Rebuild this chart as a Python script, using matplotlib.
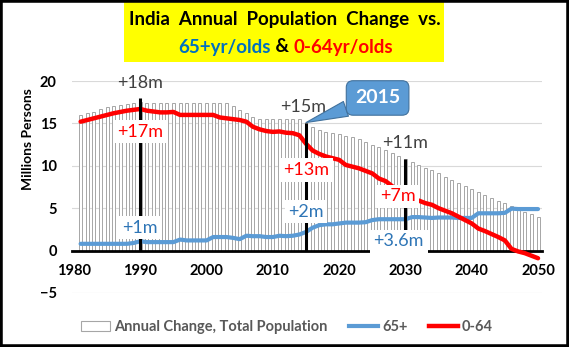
import matplotlib
matplotlib.use("Agg")
import matplotlib.pyplot as plt
from matplotlib.lines import Line2D
from matplotlib.patches import Patch, Rectangle
from matplotlib.offsetbox import TextArea, HPacker, AnnotationBbox

plt.rcParams["font.family"] = ["Lato", "DejaVu Sans"]

years = list(range(1981, 2051))

total_change = [
    16.0, 16.2, 16.4, 16.7, 16.9, 17.05, 17.2, 17.3, 17.45, 17.5,
    17.4, 17.4, 17.4, 17.4, 17.4, 17.4, 17.4, 17.4, 17.4, 17.4,
    17.4, 17.4, 17.4, 17.1, 16.6, 16.2, 15.8, 15.5, 15.5, 15.5,
    15.5, 15.5, 15.5, 15.5, 15.1, 14.6, 14.2, 14.0, 13.85, 13.7,
    13.55, 13.4, 13.15, 12.85, 12.5, 12.2, 11.9, 11.5, 11.1, 10.8,
    10.5, 10.1, 9.75, 9.45, 9.1, 8.7, 8.35, 7.95, 7.65, 7.25,
    6.9, 6.55, 6.2, 5.9, 5.65, 5.3, 4.9, 4.6, 4.3, 4.0,
]

age_65_plus = [
    0.8, 0.8, 0.8, 0.8, 0.8, 0.8, 0.8, 0.8, 0.9, 1.1,
    1.0, 1.0, 1.0, 1.0, 1.0, 1.3, 1.2, 1.2, 1.2, 1.2,
    1.6, 1.6, 1.6, 1.5, 1.35, 1.75, 1.7, 1.7, 1.6, 1.6,
    1.75, 1.7, 1.75, 1.9, 2.2, 2.7, 3.0, 3.1, 3.1, 3.2,
    3.3, 3.3, 3.3, 3.35, 3.6, 3.7, 3.7, 3.7, 3.7, 3.7,
    3.95, 3.95, 3.9, 3.85, 3.9, 3.9, 3.9, 3.85, 3.85, 3.85,
    4.4, 4.4, 4.4, 4.4, 4.45, 4.95, 4.9, 4.9, 4.9, 4.9,
]

age_0_64 = [
    15.2, 15.4, 15.6, 15.8, 16.0, 16.2, 16.35, 16.5, 16.6, 16.7,
    16.5, 16.4, 16.3, 16.3, 16.35, 16.0, 16.0, 16.0, 16.0, 16.0,
    16.0, 15.7, 15.6, 15.5, 15.4, 15.2, 14.6, 14.3, 14.1, 14.0,
    14.05, 13.9, 13.85, 13.6, 12.6, 11.8, 11.4, 11.1, 10.9, 10.7,
    10.1, 9.9, 9.7, 9.4, 9.1, 8.5, 8.2, 7.6, 7.0, 6.5,
    6.1, 5.9, 5.6, 5.4, 5.0, 4.7, 4.4, 4.0, 3.6, 3.2,
    2.6, 2.3, 1.95, 1.6, 1.2, 0.2, -0.1, -0.3, -0.6, -0.9,
]

marker_years = [1990, 2015, 2030]
marker_tops = [18.0, 15.1, 10.8]

# text labels: (year, value, text, colour, white background)
labels = [
    (1990, 19.8, "+18m", "#404040", False),
    (1990, 14.0, "+17m", "#FF0000", True),
    (1990, 2.7, "+1m", "#2E75B6", True),
    (2014.5, 16.9, "+15m", "#404040", False),
    (2015, 9.5, "+13m", "#FF0000", True),
    (2015, 4.6, "+2m", "#2E75B6", True),
    (2030, 12.7, "+11m", "#404040", False),
    (2028.8, 6.4, "+7m", "#FF0000", True),
    (2029, 1.1, "+3.6m", "#2E75B6", True),
]

W, H = 569, 347
fig = plt.figure(figsize=(W / 100, H / 100), dpi=100)
ax = fig.add_axes([72 / W, (H - 293) / H, 470 / W, 212 / H])

ax.bar(years, total_change, width=0.45, facecolor="white",
       edgecolor="#A6A6A6", linewidth=0.7, zorder=2)
ax.plot(years, age_65_plus, color="#5B9BD5", linewidth=3.0,
        solid_capstyle="round", zorder=4)
ax.plot(years, age_0_64, color="#FF0000", linewidth=3.2,
        solid_capstyle="round", zorder=4)
ax.vlines(marker_years, 0, marker_tops, color="black", linewidth=2.2, zorder=5)

for x, y, txt, col, boxed in labels:
    kw = {}
    if boxed:
        kw["bbox"] = dict(boxstyle="square,pad=0.2", fc="white", ec="none")
    ax.text(x, y, txt, color=col, fontsize=13, ha="center", va="center",
            zorder=6, **kw)

ax.annotate("2015", xy=(2015, 15.1), xytext=(2025.8, 18.0),
            color="white", fontsize=14, fontweight="bold",
            ha="center", va="center", zorder=7,
            bbox=dict(boxstyle="round,pad=0.45,rounding_size=0.35",
                      fc="#5B9BD5", ec="#41719C", lw=0.8),
            arrowprops=dict(arrowstyle="wedge,tail_width=0.8,shrink_factor=0.5",
                            fc="#5B9BD5", ec="#41719C", lw=0.8,
                            shrinkA=0, shrinkB=0))

ax.set_xlim(1979.7, 2050.6)
ax.set_ylim(-5, 20)
ax.set_xticks([1980, 1990, 2000, 2010, 2020, 2030, 2040, 2050])
ax.set_yticks([-5, 0, 5, 10, 15, 20])
ax.grid(axis="y", color="#D9D9D9", linewidth=0.8, zorder=0)
ax.set_axisbelow(True)
for side in ["top", "right", "left"]:
    ax.spines[side].set_visible(False)
ax.spines["bottom"].set_position(("data", 0))
ax.spines["bottom"].set_linewidth(2.0)
ax.spines["bottom"].set_zorder(3)
ax.tick_params(axis="x", length=0, pad=10, labelsize=10.5)
ax.tick_params(axis="y", length=0, pad=11, labelsize=10.5)
for t in ax.get_xticklabels() + ax.get_yticklabels():
    t.set_fontweight("bold")

fig.text(28 / W, 1 - 139 / H, "Millions Persons", rotation=90,
         ha="center", va="center", fontsize=10, fontweight="bold")

# title block
fig.patches.append(Rectangle((124 / W, 1 - 62 / H), 320 / W, 60 / H,
                             transform=fig.transFigure, fc="#FFFF00",
                             ec="none", zorder=0))
fig.text(284.5 / W, 1 - 20 / H, "India  Annual  Population  Change  vs.",
         ha="center", va="center", fontsize=13.5, fontweight="bold")
parts = [("65+yr/olds", "#0070C0"), (" & ", "black"), ("0-64yr/olds", "#FF0000")]
areas = [TextArea(s, textprops=dict(color=c, fontsize=13.5, fontweight="bold"))
         for s, c in parts]
packer = HPacker(children=areas, align="baseline", pad=0, sep=0)
fig.add_artist(AnnotationBbox(packer, (286 / W, 1 - 47 / H),
                              xycoords="figure fraction", frameon=False,
                              box_alignment=(0.5, 0.5)))

handles = [
    Patch(facecolor="white", edgecolor="#A6A6A6", linewidth=0.8),
    Line2D([], [], color="#5B9BD5", linewidth=3.0),
    Line2D([], [], color="#FF0000", linewidth=3.2),
]
fig.legend(handles, ["Annual Change, Total Population", "65+", "0-64"],
           loc="center", bbox_to_anchor=(287 / W, 20 / H), ncol=3,
           frameon=False, handlelength=2.0, handletextpad=0.25,
           columnspacing=1.5, prop=dict(size=10.5, weight="bold"),
           labelcolor="#595959")

fig.patches.append(Rectangle((0, 0), 1, 1, transform=fig.transFigure,
                             fill=False, ec="black", lw=4))

fig.savefig("out.png", dpi=100)
